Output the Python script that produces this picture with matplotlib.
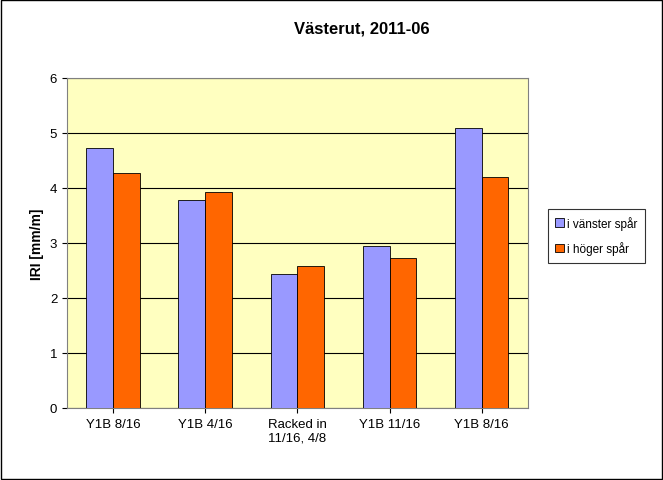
import matplotlib
matplotlib.use("Agg")
import matplotlib.pyplot as plt
import numpy as np

categories = ["Y1B 8/16", "Y1B 4/16", "Racked in\n11/16, 4/8", "Y1B 11/16", "Y1B 8/16"]
vanster = [4.73, 3.78, 2.43, 2.94, 5.09]
hoger = [4.27, 3.92, 2.58, 2.72, 4.20]
yticks = [0, 1, 2, 3, 4, 5, 6]

plt.rcParams["font.family"] = "Liberation Sans"
fig = plt.figure(figsize=(6.63, 4.81), dpi=100)
fig.patches.append(plt.Rectangle((0.002, 0.002), 0.996, 0.996, transform=fig.transFigure,
                                 fill=False, edgecolor="black", linewidth=1))
ax = fig.add_axes([0.101, 0.150, 0.695, 0.686])
ax.set_facecolor("#FFFFC0")
x = np.arange(len(categories))
w = 0.29
ax.bar(x - w/2, vanster, w, color="#9999FF", edgecolor="black", linewidth=0.6, label="i vänster spår", zorder=3)
ax.bar(x + w/2, hoger, w, color="#FF6600", edgecolor="black", linewidth=0.6, label="i höger spår", zorder=3)
ax.set_xlim(-0.5, len(categories) - 0.5)
ax.set_ylim(0, 6)
ax.set_yticks(yticks)
ax.yaxis.grid(True, color="black", linewidth=0.8, zorder=0)
ax.set_xticks(x)
ax.set_xticklabels(categories, fontsize=9.5)
ax.tick_params(axis="y", labelsize=9.5)
for s in ax.spines.values():
    s.set_color("#808080")
ax.set_ylabel("IRI [mm/m]", fontsize=10, fontweight="bold")
fig.text(0.545, 0.94, "Västerut, 2011-06", ha="center", va="center", fontsize=12, fontweight="bold")
leg = fig.legend(loc="center left", bbox_to_anchor=(0.818, 0.508), fontsize=8.5,
                 frameon=True, fancybox=False, edgecolor="black", handlelength=0.7,
                 handletextpad=0.3, labelspacing=1.0, borderpad=0.6)
leg.get_frame().set_linewidth(0.8)
fig.savefig("out.png", dpi=100)
